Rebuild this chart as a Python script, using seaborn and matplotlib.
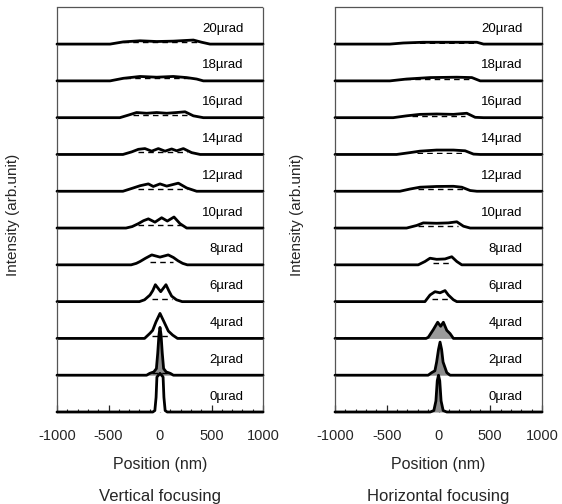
import numpy as np
import pandas as pd
import matplotlib
matplotlib.use("Agg")
import matplotlib.pyplot as plt
import seaborn as sns

sns.set_theme(style="white")
plt.rcParams['font.family'] = ['Liberation Sans', 'DejaVu Sans']

# ---------------- data ----------------
angles = [20, 18, 16, 14, 12, 10, 8, 6, 4, 2, 0]          # µrad, top to bottom
row_labels = [f"{a}\u00b5rad" for a in angles]
xticks = [-1000, -500, 0, 500, 1000]

# Vertical focusing profiles (x in nm, intensity in arb. units)
v_x = {
    20: [-1000, -485, -356, -194, -32, 129, 324, 405, 485, 1000],
    18: [-1000, -485, -356, -194, -32, 129, 259, 356, 421, 1000],
    16: [-1000, -390, -307, -227, -130, -32, 65, 162, 243, 324, 421, 1000],
    14: [-1000, -360, -275, -210, -146, -81, -16, 49, 113, 162, 227, 307, 390, 1000],
    12: [-1000, -360, -259, -194, -113, -65, 0, 65, 178, 259, 356, 1000],
    10: [-1000, -330, -270, -210, -160, -113, -49, 16, 71, 136, 194, 259, 1000],
    8:  [-1000, -280, -230, -194, -140, -80, 0, 80, 130, 175, 220, 265, 1000],
    6:  [-1000, -200, -150, -97, -70, -45, 7, 58, 85, 113, 160, 215, 1000],
    4:  [-1000, -150, -97, -71, -39, 0, 39, 81, 123, 170, 1000],
    2:  [-1000, -130, -100, -60, -35, -22, -10, 0, 10, 22, 35, 60, 100, 130, 1000],
    0:  [-1000, -70, -50, -38, -30, 0, 30, 38, 50, 70, 1000],
}
v_y = {
    20: [0, 0, 0.06, 0.09, 0.07, 0.08, 0.11, 0.05, 0, 0],
    18: [0, 0, 0.07, 0.12, 0.10, 0.12, 0.09, 0.05, 0, 0],
    16: [0, 0, 0.07, 0.14, 0.12, 0.14, 0.12, 0.14, 0.16, 0.05, 0, 0],
    14: [0, 0, 0.07, 0.14, 0.16, 0.09, 0.16, 0.09, 0.15, 0.10, 0.16, 0.05, 0, 0],
    12: [0, 0, 0.09, 0.15, 0.20, 0.13, 0.20, 0.14, 0.22, 0.09, 0, 0],
    10: [0, 0, 0.04, 0.12, 0.20, 0.25, 0.16, 0.28, 0.19, 0.30, 0.12, 0, 0],
    8:  [0, 0, 0.04, 0.09, 0.18, 0.27, 0.21, 0.27, 0.20, 0.11, 0.04, 0, 0],
    6:  [0, 0, 0.05, 0.18, 0.30, 0.46, 0.27, 0.46, 0.30, 0.15, 0.05, 0, 0],
    4:  [0, 0, 0.14, 0.22, 0.45, 0.68, 0.45, 0.20, 0.09, 0, 0],
    2:  [0, 0, 0.05, 0.09, 0.18, 0.60, 1.10, 1.30, 1.10, 0.60, 0.18, 0.09, 0.05, 0, 0],
    0:  [0, 0, 0.04, 0.40, 0.95, 1.05, 0.95, 0.40, 0.04, 0, 0],
}
v_dash = {  # (start, end, level) of geometric (ray-trace) profile
    20: (-356, 356, 0.07), 18: (-340, 320, 0.07), 16: (-260, 259, 0.07),
    14: (-210, 259, 0.07), 12: (-215, 260, 0.07), 10: (-210, 210, 0.07),
    8: (-97, 129, 0.07), 6: (-81, 113, 0.07), 4: (-80, 110, 0.06),
    2: (-80, 100, 0.06),
}
v_fill = {2: '#8c8c8c', 0: 'white'}

# Horizontal focusing profiles
h_x = {
    20: [-1000, -470, -341, -147, 177, 371, 435, 1000],
    18: [-1000, -470, -308, -82, 177, 322, 403, 1000],
    16: [-1000, -438, -308, -179, -18, 144, 273, 354, 435, 1000],
    14: [-1000, -405, -276, -179, -18, 144, 257, 338, 403, 1000],
    12: [-1000, -373, -276, -179, -18, 144, 225, 306, 371, 1000],
    10: [-1000, -308, -211, -147, -18, 95, 177, 241, 306, 1000],
    8:  [-1000, -196, -131, -82, -18, 63, 128, 177, 225, 1000],
    6:  [-1000, -131, -82, -34, 15, 63, 95, 144, 177, 1000],
    4:  [-1000, -120, -99, -50, -8, 21, 47, 80, 112, 144, 1000],
    2:  [-1000, -100, -66, -35, -18, 0, 15, 30, 44, 80, 112, 1000],
    0:  [-1000, -80, -45, -25, -12, 0, 12, 25, 45, 80, 1000],
}
h_y = {
    20: [0, 0, 0.03, 0.05, 0.05, 0.05, 0, 0],
    18: [0, 0, 0.05, 0.09, 0.10, 0.09, 0, 0],
    16: [0, 0, 0.05, 0.09, 0.10, 0.09, 0.12, 0.01, 0, 0],
    14: [0, 0, 0.05, 0.09, 0.12, 0.12, 0.10, 0.01, 0, 0],
    12: [0, 0, 0.06, 0.11, 0.13, 0.135, 0.11, 0.02, 0, 0],
    10: [0, 0, 0.07, 0.14, 0.13, 0.14, 0.17, 0.05, 0, 0],
    8:  [0, 0, 0.09, 0.18, 0.15, 0.16, 0.22, 0.09, 0, 0],
    6:  [0, 0, 0.18, 0.27, 0.24, 0.30, 0.18, 0.05, 0, 0],
    4:  [0, 0, 0.03, 0.24, 0.44, 0.33, 0.44, 0.22, 0.13, 0, 0],
    2:  [0, 0, 0.07, 0.12, 0.36, 0.70, 0.90, 0.70, 0.36, 0.07, 0, 0],
    0:  [0, 0, 0.04, 0.30, 0.85, 1.00, 0.85, 0.30, 0.04, 0, 0],
}
h_dash = {
    20: (-370, 370, 0.04), 18: (-320, 320, 0.05), 16: (-260, 260, 0.05),
    14: (-211, 241, 0.05), 12: (-196, 241, 0.05), 10: (-196, 192, 0.05),
    8: (-50, 128, 0.06), 6: (-66, 112, 0.06),
}
h_fill = {4: '#9a9a9a', 2: '#8c8c8c', 0: '#8c8c8c'}

# ---------------- layout ----------------
W, H = 562, 504
fig = plt.figure(figsize=(W / 100, H / 100), dpi=100)
top_px, bot_px = 7.3, 412.0
row_h = (bot_px - top_px) / len(angles)

panels = [
    dict(x0=57, x1=263, xs=v_x, ys=v_y, dash=v_dash, fill=v_fill,
         title="Vertical focusing", ylab_x=13),
    dict(x0=335, x1=542, xs=h_x, ys=h_y, dash=h_dash, fill=h_fill,
         title="Horizontal focusing", ylab_x=297),
]

for p in panels:
    left = p['x0'] / W
    width = (p['x1'] - p['x0']) / W
    for i, a in enumerate(angles):
        y_top = top_px + i * row_h
        ax = fig.add_axes([left, 1 - (y_top + row_h) / H, width, row_h / H])
        ax.patch.set_visible(False)
        df = pd.DataFrame({'x': p['xs'][a], 'y': p['ys'][a]})
        if a in p['fill']:
            ax.fill_between(df['x'], 0, df['y'], color=p['fill'][a],
                            zorder=2, clip_on=False, lw=0)
        sns.lineplot(data=df, x='x', y='y', ax=ax, color='black', lw=2.0,
                     estimator=None, sort=False, zorder=3)
        for ln in ax.get_lines():
            ln.set_clip_on(False)
        if a in p['dash']:
            s, e, lev = p['dash'][a]
            ax.plot([s, e], [lev, lev], color='black', lw=1.0,
                    ls=(0, (4, 3)), zorder=2.5)
        ax.set_xlim(-1000, 1000)
        ax.set_ylim(0, 1)
        ax.set_xlabel('')
        ax.set_ylabel('')
        ax.set_yticks([])
        ax.text(810, 0.42, row_labels[i], ha='right', va='center',
                fontsize=9.5, color='black')
        for side in ['left', 'right']:
            ax.spines[side].set_visible(True)
            ax.spines[side].set_color('#555555')
            ax.spines[side].set_linewidth(0.9)
            ax.spines[side].set_linestyle((0, (1.5, 1)))
        ax.spines['top'].set_visible(i == 0)
        ax.spines['top'].set_color('#555555')
        ax.spines['top'].set_linewidth(0.9)
        ax.spines['top'].set_linestyle((0, (1.5, 1)))
        ax.spines['bottom'].set_visible(False)
        if i == len(angles) - 1:
            ax.set_xticks(xticks)
            ax.set_xticklabels([str(t) for t in xticks], fontsize=10.5)
            ax.set_xticks(np.arange(-1000, 1001, 100), minor=True)
            ax.tick_params(axis='x', which='major', direction='in', length=5,
                           width=0.9, pad=12, bottom=True, top=False)
            ax.tick_params(axis='x', which='minor', direction='in', length=2.5,
                           width=0.8, bottom=True, top=False)
        else:
            ax.set_xticks([])
    cx = (p['x0'] + p['x1']) / 2 / W
    fig.text(cx, 1 - 465 / H, "Position (nm)", ha='center', va='center',
             fontsize=11.5)
    fig.text(cx, 1 - 497 / H, p['title'], ha='center', va='center',
             fontsize=12)
    fig.text(p['ylab_x'] / W, 1 - 215 / H, "Intensity (arb.unit)",
             ha='center', va='center', rotation=90, fontsize=11)

fig.savefig("out.png", dpi=100)
